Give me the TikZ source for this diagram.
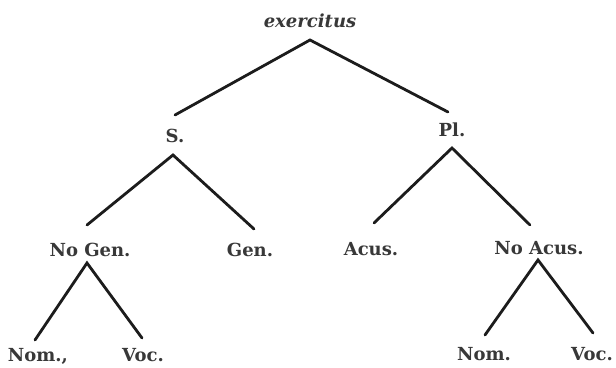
\documentclass[tikz,border=0pt]{standalone}
\usepackage{fontspec}
\setmainfont{DejaVu Serif}
\definecolor{txt}{HTML}{383838}
\definecolor{ln}{HTML}{1C1C1C}
\tikzset{
  lbl/.style={anchor=base, inner sep=0pt, text=txt, font=\fontsize{18}{21}\selectfont\bfseries},
  rootlbl/.style={anchor=base, inner sep=0pt, text=txt, font=\fontsize{18}{21}\selectfont\bfseries\itshape},
  edge/.style={draw=ln, line width=2.8pt, line cap=round, line join=miter}
}
\begin{document}
\begin{tikzpicture}[x=1pt,y=-1pt]
\useasboundingbox[fill=white] (0,0) rectangle (616,367);
% labels
\node[rootlbl] (root) at (310,27) {exercitus};
\node[lbl] (s) at (175,142) {S.};
\node[lbl] (pl) at (452,136) {Pl.};
\node[lbl] (nogen) at (90,256) {No Gen.};
\node[lbl] (gen) at (250,256) {Gen.};
\node[lbl] (acus) at (371,255) {Acus.};
\node[lbl] (noacus) at (539,254) {No Acus.};
\node[lbl] (nom1) at (38,361) {Nom.,};
\node[lbl] (voc1) at (143,361) {Voc.};
\node[lbl] (nom2) at (484,360) {Nom.};
\node[lbl] (voc2) at (592,360) {Voc.};
% connector points
\coordinate (rootA) at (310,40);
\coordinate (sT) at (175,115);
\coordinate (plT) at (448,112);
\coordinate (sA) at (173,155);
\coordinate (nogenT) at (87,225);
\coordinate (genT) at (254,229);
\coordinate (plA) at (452,148);
\coordinate (acusT) at (374,223);
\coordinate (noacusT) at (530,225);
\coordinate (nogenA) at (87,263);
\coordinate (nom1T) at (35,340);
\coordinate (voc1T) at (142,338);
\coordinate (noacusA) at (538,260);
\coordinate (nom2T) at (485,335);
\coordinate (voc2T) at (593,333);
% connectors
\draw[edge] (sT) -- (rootA) -- (plT);
\draw[edge] (nogenT) -- (sA) -- (genT);
\draw[edge] (acusT) -- (plA) -- (noacusT);
\draw[edge] (nom1T) -- (nogenA) -- (voc1T);
\draw[edge] (nom2T) -- (noacusA) -- (voc2T);
\end{tikzpicture}
\end{document}
